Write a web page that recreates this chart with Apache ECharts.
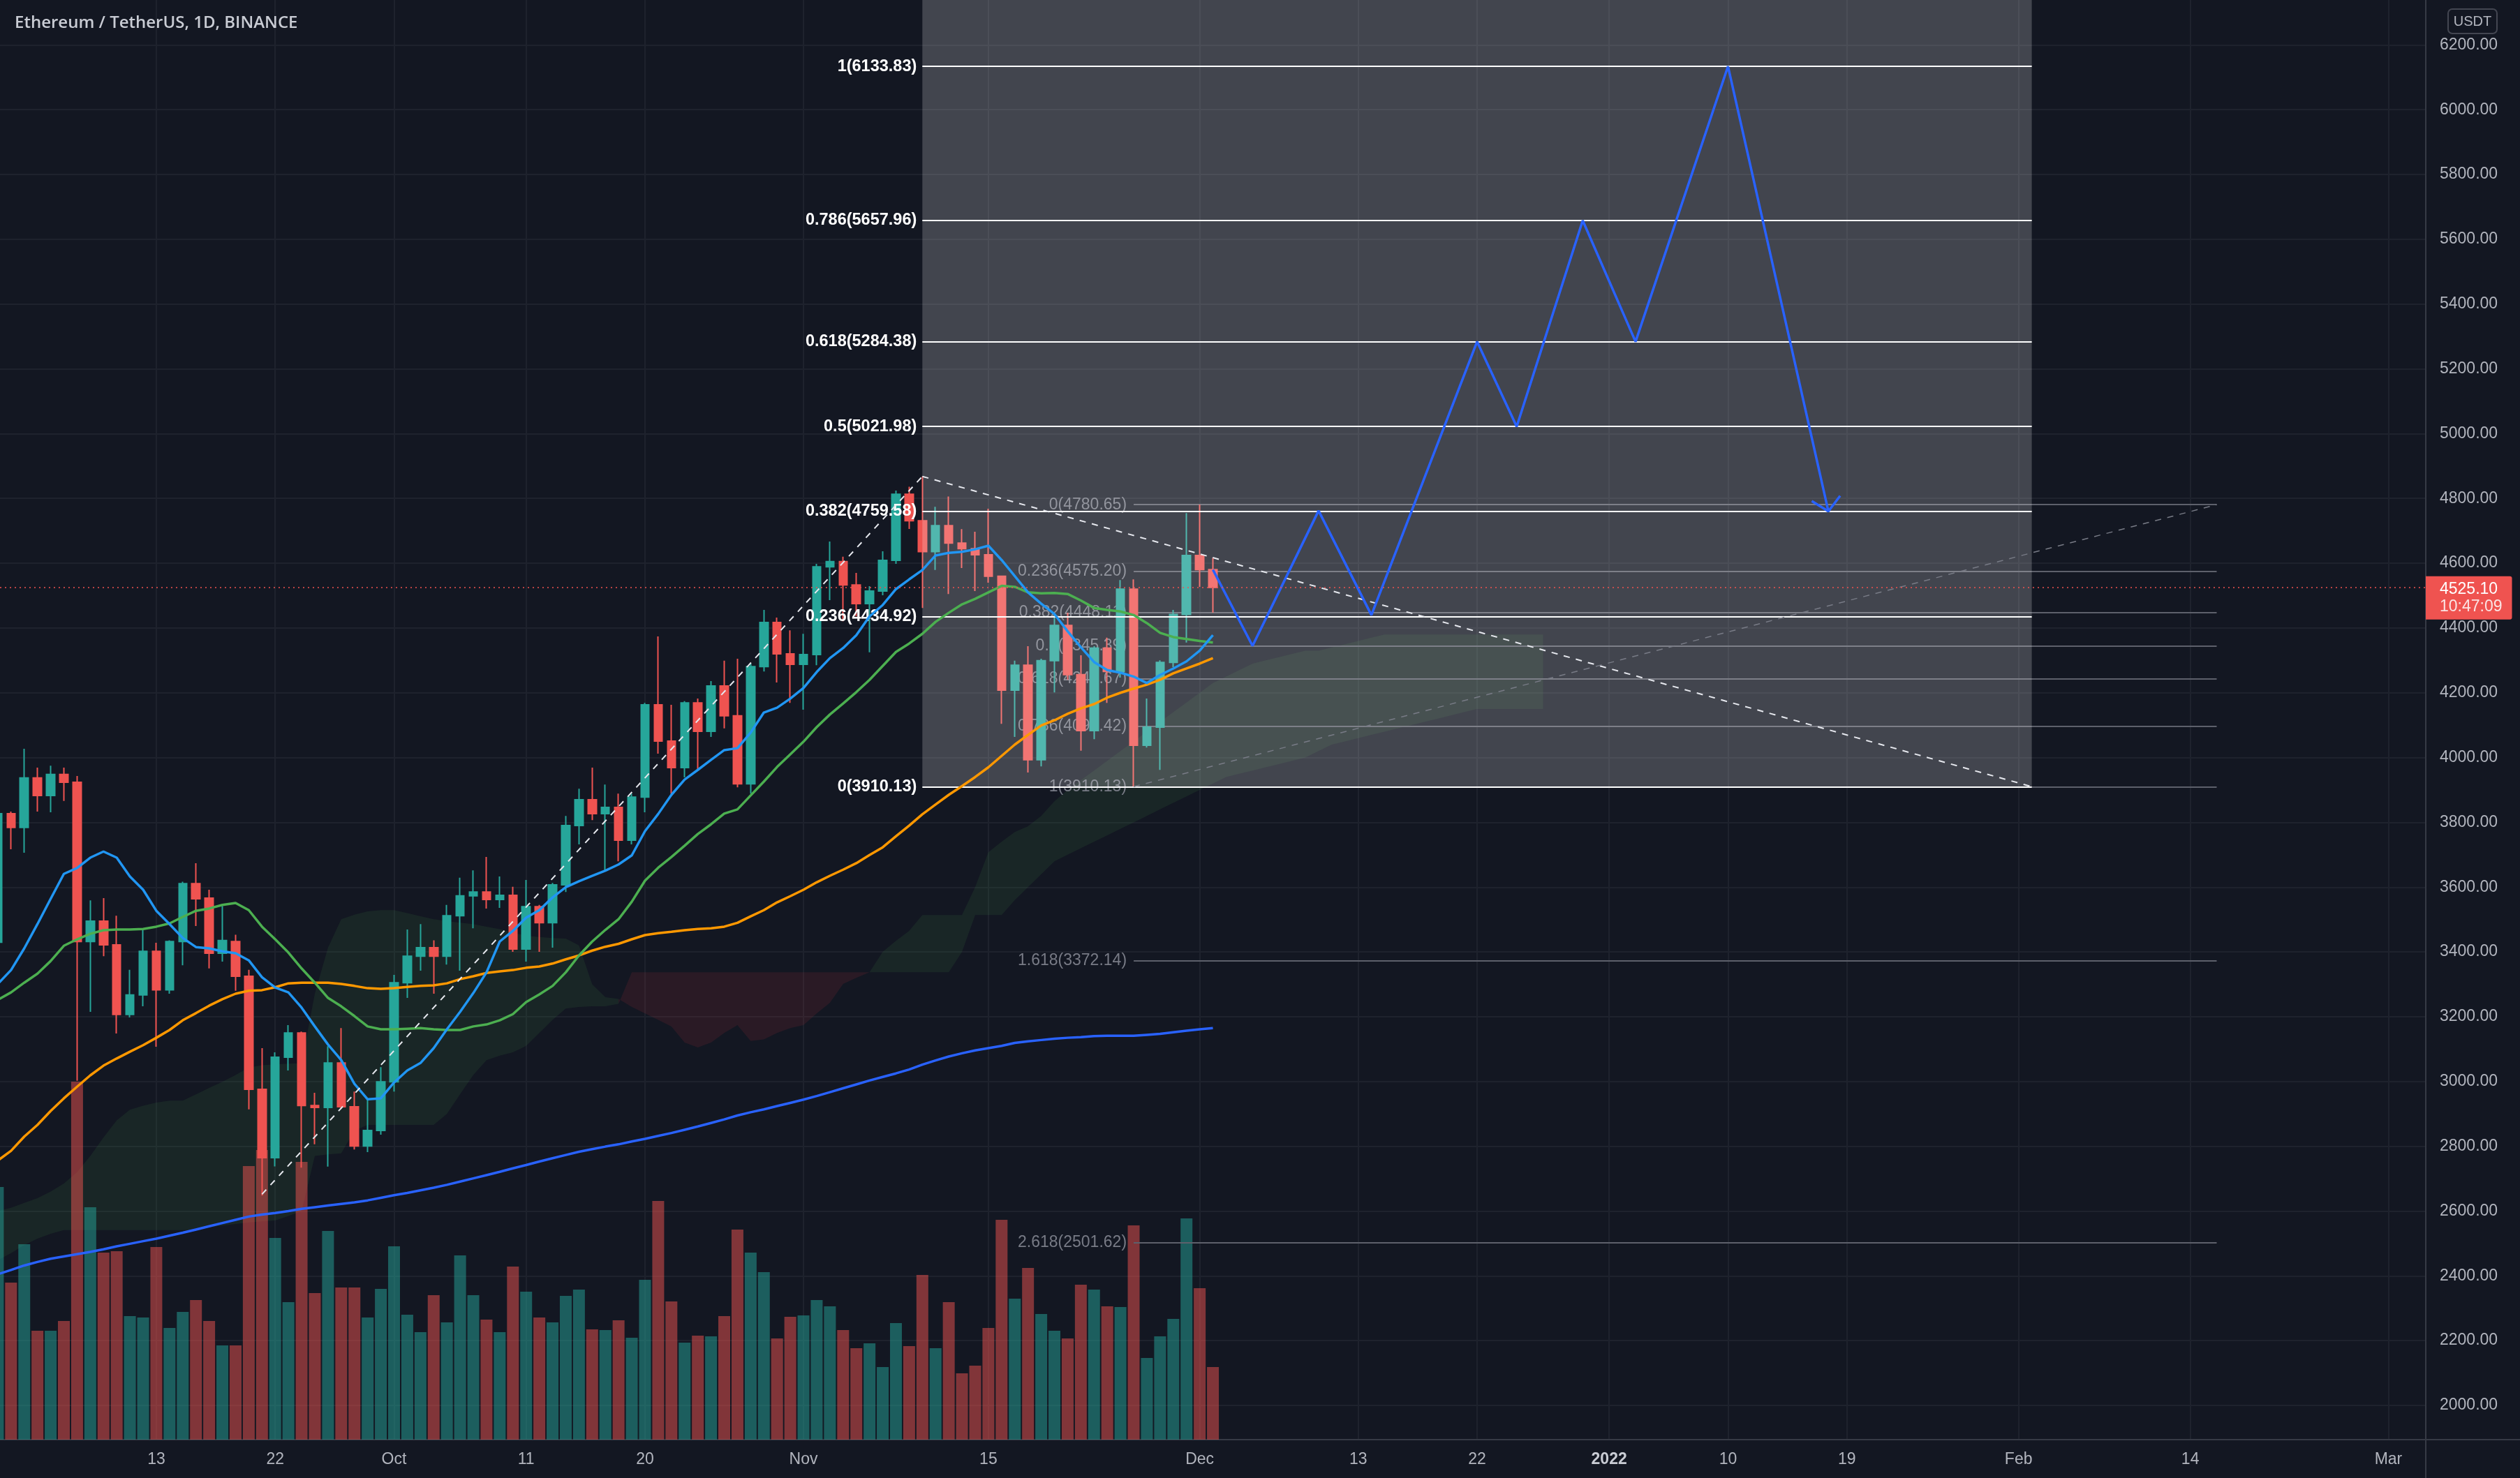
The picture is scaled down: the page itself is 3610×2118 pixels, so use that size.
<!DOCTYPE html>
<html>
<head>
<meta charset="utf-8">
<title>ETHUSDT 1D</title>
<script src="https://cdn.jsdelivr.net/npm/echarts@6.0.0/dist/echarts.min.js"></script>
<style>
html, body { margin: 0; padding: 0; background: #131722; }
#chart { width: 3610px; height: 2118px; }
</style>
</head>
<body>
<div id="chart"></div>
<script>
// x is counted in days from 2021-09-01
const tickDays = [12, 21, 30, 40, 49, 61, 75, 91, 103, 112, 122, 131, 140, 153, 166, 181];
const tickLabels = ['13', '22', 'Oct', '11', '20', 'Nov', '15', 'Dec', '13', '22', '2022', '10', '19', 'Feb', '14', 'Mar'];
const gridPrices = [2000, 2200, 2400, 2600, 2800, 3000, 3200, 3400, 3600, 3800, 4000, 4200, 4400, 4600, 4800, 5000, 5200, 5400, 5600, 5800, 6000, 6200];

// day, open, close, low, high
const candles = [
  [0, 3430, 3827, 3390, 3840], [1, 3827, 3784, 3717, 3833], [2, 3784, 3937, 3706, 4027], [3, 3937, 3883, 3833, 3969],
  [4, 3883, 3948, 3831, 3975], [5, 3948, 3924, 3866, 3969], [6, 3924, 3432, 3002, 3943], [7, 3432, 3495, 3215, 3559],
  [8, 3495, 3422, 3387, 3566], [9, 3422, 3207, 3148, 3512], [10, 3207, 3267, 3198, 3345], [11, 3267, 3402, 3232, 3469],
  [12, 3402, 3283, 3107, 3428], [13, 3283, 3432, 3271, 3436], [14, 3432, 3611, 3359, 3617], [15, 3611, 3564, 3480, 3674],
  [16, 3566, 3396, 3349, 3592], [17, 3396, 3435, 3370, 3542], [18, 3432, 3325, 3280, 3453], [19, 3325, 2976, 2914, 3345],
  [20, 2976, 2765, 2648, 3103], [21, 2765, 3075, 2738, 3090], [22, 3075, 3150, 3034, 3174], [23, 3150, 2926, 2734, 3154],
  [24, 2926, 2920, 2806, 2965], [25, 2920, 3057, 2737, 3109], [26, 3057, 2922, 2915, 3165], [27, 2922, 2801, 2790, 2969],
  [28, 2801, 2849, 2782, 2948], [29, 2849, 2999, 2836, 3044], [30, 2999, 3305, 2969, 3329], [31, 3305, 3387, 3258, 3469],
  [32, 3387, 3413, 3342, 3486], [33, 3413, 3387, 3271, 3436], [34, 3387, 3512, 3361, 3545], [35, 3512, 3573, 3342, 3629],
  [36, 3573, 3585, 3473, 3652], [37, 3585, 3562, 3534, 3693], [38, 3562, 3575, 3536, 3633], [39, 3575, 3409, 3400, 3601],
  [40, 3409, 3540, 3370, 3622], [41, 3540, 3490, 3400, 3545], [42, 3490, 3607, 3413, 3613], [43, 3607, 3790, 3585, 3820],
  [44, 3790, 3870, 3732, 3904], [45, 3870, 3827, 3807, 3969], [46, 3827, 3846, 3648, 3917], [47, 3846, 3745, 3680, 3889],
  [48, 3745, 3878, 3732, 3889], [49, 3878, 4163, 3831, 4169], [50, 4163, 4051, 4012, 4374], [51, 4051, 3969, 3889, 4163],
  [52, 3969, 4169, 3939, 4174], [53, 4169, 4081, 3962, 4182], [54, 4081, 4221, 4064, 4236], [55, 4221, 4129, 4090, 4299],
  [56, 4129, 3919, 3908, 4305], [57, 3919, 4281, 3889, 4290], [58, 4281, 4417, 4266, 4456], [59, 4417, 4320, 4232, 4432],
  [60, 4320, 4288, 4169, 4393], [61, 4288, 4318, 4148, 4382], [62, 4318, 4589, 4285, 4598], [63, 4589, 4605, 4486, 4667],
  [64, 4605, 4533, 4421, 4620], [65, 4533, 4475, 4436, 4570], [66, 4475, 4514, 4325, 4529], [67, 4514, 4609, 4501, 4637],
  [68, 4609, 4813, 4598, 4824], [69, 4813, 4731, 4706, 4836], [70, 4731, 4636, 4462, 4868], [71, 4636, 4716, 4579, 4774],
  [72, 4716, 4662, 4505, 4806], [73, 4662, 4645, 4585, 4705], [74, 4645, 4626, 4514, 4697], [75, 4626, 4560, 4540, 4768],
  [76, 4560, 4208, 4104, 4560], [77, 4208, 4285, 4064, 4299], [78, 4285, 3993, 3954, 4344], [79, 3993, 4299, 3973, 4305],
  [80, 4299, 4408, 4201, 4442], [81, 4408, 4256, 4240, 4447], [82, 4256, 4083, 4021, 4316], [83, 4083, 4338, 4057, 4344],
  [84, 4338, 4266, 4169, 4370], [85, 4266, 4520, 4247, 4548], [86, 4520, 4038, 3910, 4550], [87, 4038, 4094, 4031, 4182],
  [88, 4094, 4294, 3962, 4300], [89, 4294, 4442, 4279, 4456], [90, 4442, 4624, 4355, 4755], [91, 4624, 4580, 4527, 4781],
  [92, 4580, 4525.1, 4447, 4617]
];

// volume, thousands ETH (one per candle)
const volumes = [
  1810, 1125, 1400, 780, 780, 850, 2565, 1665, 1340, 1350, 885, 875, 1380, 800, 915, 1000, 850, 675, 675, 1960,
  2075, 1445, 985, 1990, 1050, 1495, 1090, 1090, 875, 1080, 1385, 895, 770, 1035, 840, 1320, 1035, 860, 770, 1240,
  1060, 875, 840, 1030, 1075, 790, 785, 855, 730, 1145, 1710, 990, 695, 745, 740, 885, 1505, 1340, 1200, 725,
  880, 890, 1000, 955, 785, 655, 690, 520, 835, 670, 1180, 655, 985, 475, 530, 800, 1575, 1010, 1230, 900,
  780, 725, 1110, 1075, 955, 950, 1535, 585, 740, 865, 1585, 1085, 520
];

const maFast = [
  3301, 3344, 3411, 3486, 3564, 3641, 3659, 3691, 3710, 3691, 3633, 3592, 3527, 3486, 3443, 3415, 3411, 3402, 3396, 3374,
  3322, 3290, 3275, 3228, 3170, 3114, 3066, 2993, 2945, 2948, 2997, 3034, 3057, 3103, 3161, 3215, 3273, 3337, 3432, 3465,
  3506, 3529, 3568, 3600, 3618, 3635, 3651, 3670, 3698, 3773, 3826, 3885, 3932, 3962, 3993, 4023, 4029, 4077, 4139, 4154,
  4182, 4215, 4264, 4307, 4338, 4378, 4436, 4471, 4520, 4550, 4579, 4624, 4632, 4635, 4643, 4654, 4610, 4560, 4510, 4475,
  4443, 4390, 4341, 4295, 4270, 4262, 4250, 4230, 4255, 4275, 4297, 4330, 4378
];
const maMid = [
  3252, 3275, 3305, 3333, 3372, 3419, 3439, 3456, 3467, 3469, 3469, 3471, 3478, 3488, 3508, 3527, 3534, 3545, 3551, 3529,
  3478, 3439, 3398, 3349, 3305, 3258, 3232, 3202, 3170, 3161, 3161, 3163, 3165, 3161, 3159, 3159, 3170, 3176, 3189, 3208,
  3245, 3269, 3295, 3337, 3389, 3432, 3468, 3501, 3555, 3620, 3660, 3693, 3728, 3764, 3794, 3827, 3840, 3883, 3926, 3971,
  4010, 4049, 4094, 4133, 4167, 4202, 4240, 4283, 4326, 4352, 4382, 4419, 4447, 4473, 4490, 4510, 4530, 4527, 4510, 4507,
  4508, 4505, 4485, 4462, 4456, 4451, 4440, 4415, 4385, 4372, 4366, 4360, 4355
];
const maSlow = [
  2756, 2786, 2830, 2866, 2909, 2948, 2984, 3019, 3049, 3071, 3092, 3112, 3135, 3159, 3189, 3211, 3234, 3254, 3271, 3280,
  3282, 3291, 3303, 3305, 3305, 3305, 3301, 3295, 3288, 3286, 3288, 3292, 3295, 3297, 3303, 3316, 3325, 3335, 3340, 3344,
  3351, 3355, 3364, 3377, 3389, 3404, 3416, 3425, 3439, 3452, 3458, 3462, 3467, 3471, 3473, 3478, 3490, 3510, 3529, 3553,
  3572, 3592, 3615, 3635, 3654, 3674, 3699, 3723, 3757, 3790, 3825, 3855, 3885, 3912, 3940, 3970, 4005, 4040, 4070, 4099,
  4115, 4135, 4152, 4165, 4185, 4200, 4213, 4225, 4240, 4260, 4275, 4290, 4307
];
const ma200 = [
  2405, 2418, 2432, 2443, 2453, 2460, 2467, 2474, 2482, 2491, 2499, 2507, 2515, 2524, 2533, 2543, 2553, 2563, 2573, 2583,
  2589, 2594, 2600, 2607, 2612, 2617, 2622, 2627, 2633, 2641, 2649, 2656, 2664, 2672, 2681, 2691, 2701, 2711, 2721, 2732,
  2742, 2753, 2763, 2773, 2783, 2791, 2799, 2806, 2815, 2823, 2832, 2841, 2851, 2861, 2872, 2883, 2895, 2905, 2914, 2924,
  2934, 2944, 2955, 2967, 2979, 2991, 3003, 3014, 3025, 3037, 3052, 3065, 3077, 3087, 3096, 3103, 3110, 3119, 3124, 3128,
  3132, 3135, 3137, 3140, 3141, 3141, 3141, 3144, 3147, 3152, 3157, 3161, 3165
];

// ichimoku cloud edges, one value per day from day 0
const spanA = [
  2600, 2610, 2625, 2640, 2660, 2685, 2720, 2770, 2827, 2880, 2913, 2925, 2935, 2941, 2941, 2960, 2980, 2999, 3020, 3043,
  3050, 3053, 3055, 3056, 3271, 3413, 3501, 3515, 3525, 3529, 3529, 3520, 3510, 3501, 3495, 3490, 3486, 3478, 3470, 3460,
  3450, 3446, 3443, 3441, 3420, 3300, 3260, 3255, 3230, 3210, 3190, 3170, 3120, 3105, 3120, 3150, 3174, 3125, 3130, 3150,
  3165, 3174, 3210, 3243, 3301, 3320, 3337, 3400, 3434, 3465, 3514, 3514, 3514, 3514, 3600, 3708, 3740, 3770, 3788, 3820,
  3865, 3900, 3930, 3960, 3990, 4020, 4050, 4080, 4110, 4140, 4170, 4200, 4230, 4250, 4270, 4290, 4300, 4310, 4320, 4330,
  4330, 4340, 4350, 4360, 4370, 4380, 4380, 4380, 4380, 4380, 4380, 4380, 4380, 4380, 4380, 4380, 4380, 4380
];
const spanB = [
  2448, 2470, 2495, 2515, 2530, 2541, 2541, 2541, 2541, 2541, 2541, 2541, 2541, 2541, 2541, 2541, 2550, 2555, 2560, 2565,
  2568, 2571, 2585, 2600, 2770, 2775, 2778, 2849, 2866, 2866, 2866, 2866, 2866, 2866, 2900, 2961, 3020, 3066, 3080, 3090,
  3110, 3150, 3190, 3225, 3230, 3232, 3232, 3240, 3337, 3337, 3337, 3337, 3337, 3337, 3337, 3337, 3337, 3337, 3337, 3337,
  3337, 3337, 3337, 3337, 3337, 3337, 3337, 3337, 3337, 3337, 3337, 3337, 3337, 3400, 3514, 3514, 3514, 3560, 3600, 3640,
  3680, 3700, 3720, 3740, 3760, 3780, 3800, 3820, 3840, 3860, 3880, 3900, 3920, 3940, 3950, 3960, 3970, 3980, 3990, 4000,
  4020, 4040, 4050, 4060, 4070, 4080, 4090, 4100, 4110, 4120, 4130, 4140, 4150, 4150, 4150, 4150, 4150, 4150
];

// fib extension (white) and fib retracement (grey)
const fibLevels = [0, 0.236, 0.382, 0.5, 0.618, 0.786, 1];
const fibPrices = [3910.13, 4434.92, 4759.58, 5021.98, 5284.38, 5657.96, 6133.83];
const fibFrom = 70, fibTo = 154;
const fib2Levels = [0, 0.236, 0.382, 0.5, 0.618, 0.786, 1, 1.618, 2.618];
const fib2Prices = [4780.65, 4575.20, 4448.11, 4345.39, 4242.67, 4096.42, 3910.13, 3372.14, 2501.62];
const fib2From = 86, fib2To = 168;

// projected path, its arrow head and trend lines
const pathDays = [92, 95, 100, 104, 112, 115, 120, 124, 131, 138.6];
const pathPrices = [4580, 4345, 4762, 4440, 5284, 5022, 5658, 5284, 6134, 4760];
const arrowHead = [[137.34, 4792], [138.6, 4760], [139.49, 4808]];
const upTrend = [[20, 2652], [70, 4868]];
const downTrend = [[70, 4868], [154, 3910.13]];
const fib2Trend = [[86, 3910.13], [168, 4780.65]];

const lastPrice = 4525.10;
const countdown = '10:47:09';

const UP = '#26a69a', DOWN = '#ef5350';
const AXIS_FONT = 'Liberation Sans';

const myChart = echarts.init(document.getElementById('chart'), null, { renderer: 'canvas' });

const candleData = candles.map(c => [c[0], c[1], c[2], c[3], c[4]]);
const volData = candles.map((c, i) => ({
  value: [c[0], volumes[i]],
  itemStyle: { color: c[2] >= c[1] ? 'rgba(38,166,154,0.5)' : 'rgba(239,83,80,0.5)' }
}));
const toLine = arr => arr.map((v, i) => [candles[i][0], v]);

// split cloud into runs of same colour
const runs = [];
let runStart = 0;
let runGreen = spanA[0] + spanA[1] >= spanB[0] + spanB[1];
for (let d = 1; d < spanA.length; d++) {
  const g = spanA[d - 1] + spanA[d] >= spanB[d - 1] + spanB[d];
  if (g !== runGreen) {
    runs.push([runStart, d - 1, runGreen]);
    runStart = d - 1;
    runGreen = g;
  }
}
runs.push([runStart, spanA.length - 1, runGreen]);

let option = {
  backgroundColor: '#131722',
  animation: false,
  title: {
    text: 'Ethereum / TetherUS, 1D, BINANCE',
    left: 16,
    top: 16,
    textStyle: { color: '#c9ccd4', fontSize: 24, fontWeight: 600, fontFamily: 'Open Sans' }
  },
  grid: { left: 0, right: 135, top: 0, bottom: 55 },
  xAxis: {
    type: 'value',
    min: 0.1638,
    max: 183.83,
    axisLine: { show: true, lineStyle: { color: '#363a45', width: 2 } },
    axisTick: { show: false },
    splitLine: { show: false },
    axisLabel: {
      customValues: tickDays,
      margin: 17,
      color: '#b2b5be',
      fontSize: 23,
      fontFamily: AXIS_FONT,
      formatter: function (v) {
        const i = tickDays.indexOf(Math.round(v));
        if (i < 0) return '';
        return tickLabels[i] === '2022' ? '{b|2022}' : tickLabels[i];
      },
      rich: { b: { fontWeight: 'bold', fontSize: 23, color: '#c9ccd4', fontFamily: AXIS_FONT } }
    }
  },
  yAxis: [
    {
      type: 'value',
      position: 'right',
      min: 1894.4,
      max: 6338.7,
      axisLine: { show: true, lineStyle: { color: '#363a45', width: 2 } },
      axisTick: { show: false },
      splitLine: { show: false },
      axisLabel: {
        customValues: gridPrices,
        margin: 20,
        color: '#b2b5be',
        fontSize: 23,
        fontFamily: AXIS_FONT,
        formatter: v => v.toFixed(2)
      }
    },
    { type: 'value', min: 0, max: 10315, show: false }
  ],
  graphic: [
    { type: 'rect', shape: { x: 3507, y: 13, width: 70, height: 35, r: 6 }, style: { fill: 'none', stroke: '#434651', lineWidth: 2 }, z: 20 },
    { type: 'text', x: 3542, y: 31, style: { text: 'USDT', fill: '#b2b5be', font: '20px "Liberation Sans"', align: 'center', verticalAlign: 'middle' }, z: 20 },
    { type: 'line', shape: { x1: 3475, y1: 2063, x2: 3610, y2: 2063 }, style: { stroke: '#363a45', lineWidth: 2 }, z: 20 },
    { type: 'line', shape: { x1: 3475, y1: 2063, x2: 3475, y2: 2118 }, style: { stroke: '#363a45', lineWidth: 2 }, z: 20 }
  ],
  series: [
    {
      name: 'grid',
      type: 'line',
      data: [],
      z: 0,
      markLine: {
        silent: true,
        z: 0,
        symbol: ['none', 'none'],
        label: { show: false },
        lineStyle: { color: '#1e222d', width: 2, type: 'solid' },
        data: gridPrices.map(p => ({ yAxis: p })).concat(tickDays.map(d => ({ xAxis: d })))
      }
    },
    {
      name: 'cloud',
      type: 'custom',
      z: 1,
      silent: true,
      data: runs.map(r => [r[0], spanA[r[0]]]),
      encode: { x: 0, y: 1 },
      renderItem: function (params, api) {
        const r = runs[params.dataIndex];
        const top = [], bot = [];
        for (let d = r[0]; d <= r[1]; d++) {
          top.push(api.coord([d, spanA[d]]));
          bot.push(api.coord([d, spanB[d]]));
        }
        return {
          type: 'polygon',
          shape: { points: top.concat(bot.reverse()) },
          style: { fill: r[2] ? 'rgba(76,175,80,0.1)' : 'rgba(242,54,69,0.1)' }
        };
      }
    },
    {
      name: 'Volume',
      type: 'bar',
      yAxisIndex: 1,
      barWidth: 17,
      z: 2,
      data: volData
    },
    {
      name: 'fib2',
      type: 'line',
      data: [],
      markLine: {
        silent: true,
        z: 3,
        symbol: ['none', 'none'],
        lineStyle: { color: '#5d606b', width: 2, type: 'solid' },
        label: {
          show: true,
          position: 'start',
          distance: 10,
          color: '#787b86',
          fontSize: 23,
          fontFamily: AXIS_FONT,
          padding: [0, 0, 30, 0]
        },
        data: fib2Prices.map((p, i) => [
          { coord: [fib2From, p], label: { formatter: fib2Levels[i] + '(' + p.toFixed(2) + ')' } },
          { coord: [fib2To, p] }
        ])
      }
    },
    {
      name: 'ETHUSDT',
      type: 'candlestick',
      z: 5,
      barWidth: 12,
      data: candleData,
      itemStyle: { color: UP, color0: DOWN, borderColor: UP, borderColor0: DOWN, borderWidth: 2 },
      markLine: {
        silent: true,
        z: 10,
        symbol: ['none', 'none'],
        lineStyle: { color: DOWN, width: 1.5, type: [2, 5] },
        label: {
          show: true,
          position: 'end',
          distance: 0,
          offset: [0, 15],
          formatter: '{p|' + lastPrice.toFixed(2) + '}\n{t|' + countdown + '}',
          backgroundColor: DOWN,
          borderRadius: [0, 3, 3, 0],
          padding: [6, 14, 6, 20],
          rich: {
            p: { color: '#ffffff', fontSize: 23, fontFamily: AXIS_FONT, lineHeight: 25 },
            t: { color: '#fbe3e3', fontSize: 23, fontFamily: AXIS_FONT, lineHeight: 25 }
          }
        },
        data: [{ yAxis: lastPrice }]
      }
    },
    {
      name: 'fib',
      type: 'line',
      data: [],
      markArea: {
        silent: true,
        z: 6,
        itemStyle: { color: 'rgba(255,255,255,0.2)' },
        data: [[{ coord: [fibFrom, fibPrices[0]] }, { coord: [fibTo, 7000] }]]
      },
      markLine: {
        silent: true,
        z: 7,
        symbol: ['none', 'none'],
        lineStyle: { color: '#ffffff', width: 2, type: 'solid' },
        label: {
          show: true,
          position: 'start',
          distance: 8,
          color: '#ffffff',
          fontSize: 23.5,
          fontWeight: 'bold',
          fontFamily: AXIS_FONT,
          padding: [0, 0, 30, 0]
        },
        data: fibPrices.map((p, i) => [
          { coord: [fibFrom, p], label: { formatter: fibLevels[i] + '(' + p.toFixed(2) + ')' } },
          { coord: [fibTo, p] }
        ])
      }
    },
    { name: 'MA 200', type: 'line', z: 8, showSymbol: false, data: toLine(ma200), lineStyle: { color: '#2962ff', width: 3.5 } },
    { name: 'MA slow', type: 'line', z: 8, showSymbol: false, data: toLine(maSlow), lineStyle: { color: '#ff9800', width: 3.5 } },
    { name: 'MA mid', type: 'line', z: 8, showSymbol: false, data: toLine(maMid), lineStyle: { color: '#4caf50', width: 3.5 } },
    { name: 'MA fast', type: 'line', z: 8, showSymbol: false, data: toLine(maFast), lineStyle: { color: '#2196f3', width: 3.5 } },
    { name: 'up trend', type: 'line', z: 9, showSymbol: false, data: upTrend, lineStyle: { color: '#e6e8ee', width: 2, type: [9, 9] } },
    { name: 'down trend', type: 'line', z: 9, showSymbol: false, data: downTrend, lineStyle: { color: '#e6e8ee', width: 2, type: [9, 9] } },
    { name: 'fib trend', type: 'line', z: 9, showSymbol: false, data: fib2Trend, lineStyle: { color: '#787b86', width: 1.5, type: [9, 9] } },
    {
      name: 'path',
      type: 'line',
      z: 9,
      showSymbol: false,
      data: pathDays.map((d, i) => [d, pathPrices[i]]),
      lineStyle: { color: '#2962ff', width: 3.5 }
    },
    { name: 'path arrow', type: 'line', z: 9, showSymbol: false, data: arrowHead, lineStyle: { color: '#2962ff', width: 3.5 } }
  ]
};

myChart.setOption(option);
window.addEventListener('resize', function () {
  myChart.resize();
});
</script>
</body>
</html>
